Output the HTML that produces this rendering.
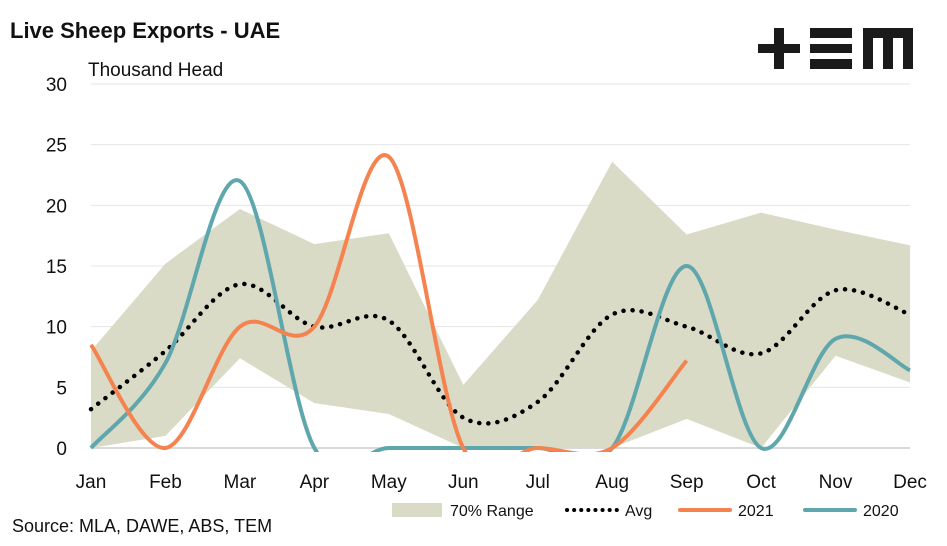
<!DOCTYPE html>
<html><head><meta charset="utf-8"><style>
body{margin:0;background:#fff;}
svg text{font-family:"Liberation Sans",sans-serif;}
</style></head><body>
<svg id="c" width="947" height="541">
<text x="10" y="38" font-size="22" font-weight="bold" fill="#111">Live Sheep Exports - UAE</text>
<text x="88" y="76" font-size="19" fill="#111">Thousand Head</text>
<g fill="#1a1a1a">
<rect x="758" y="44" width="42" height="9"/><rect x="774" y="28" width="10" height="41"/>
<rect x="810" y="28" width="42" height="10"/><rect x="810" y="44" width="42" height="9"/><rect x="810" y="59" width="42" height="10"/>
<rect x="863" y="28" width="50" height="10"/><rect x="863" y="28" width="10" height="41"/><rect x="883" y="28" width="10" height="41"/><rect x="903" y="28" width="10" height="41"/>
</g>
<g id="grid"></g><g id="band"></g>
<defs><clipPath id="clip"><rect x="85" y="80" width="830" height="372"/></clipPath></defs>
<g id="lines" clip-path="url(#clip)"></g><g id="axes"></g>
<g>
<rect x="392" y="503" width="50" height="14" fill="#d9dbc6"/>
<text x="450" y="516" font-size="16" fill="#111">70% Range</text>
<line x1="567" y1="510" x2="617" y2="510" stroke="#000" stroke-width="4" stroke-dasharray="0.1 7" stroke-linecap="round"/>
<text x="625" y="516" font-size="16" fill="#111">Avg</text>
<line x1="680" y1="510" x2="730" y2="510" stroke="#f4834f" stroke-width="4" stroke-linecap="round"/>
<text x="738" y="516" font-size="16" fill="#111">2021</text>
<line x1="805" y1="510" x2="855" y2="510" stroke="#5fa7ad" stroke-width="4" stroke-linecap="round"/>
<text x="863" y="516" font-size="16" fill="#111">2020</text>
</g>
<text x="12" y="532" font-size="18" fill="#111">Source: MLA, DAWE, ABS, TEM</text>
</svg>
<script>
const months=["Jan","Feb","Mar","Apr","May","Jun","Jul","Aug","Sep","Oct","Nov","Dec"];
const yTicks=[0,5,10,15,20,25,30];
const rangeUpper=[8,15.2,19.7,16.8,17.7,5.2,12.2,23.6,17.6,19.4,18,16.7];
const rangeLower=[0,1,7.4,3.7,2.8,0,0,0,2.4,0,7.6,5.4];
const avg=[3.2,8,13.5,10,10.5,2.5,3.8,11,10,7.8,13,11];
const s2021=[8.5,0,10,10,24,0,0,0,7.2];
const s2020=[0,7,22,0,0,0,0,0,15,0,9,6.4];
const X=i=>91+i*(910-91)/11, Y=v=>448-v*(448-84)/30;
const NS="http://www.w3.org/2000/svg";
function mk(p,t,a){const e=document.createElementNS(NS,t);for(const k in a)e.setAttribute(k,a[k]);document.getElementById(p).appendChild(e);return e;}
yTicks.forEach(v=>{
 const l=mk("grid","line",{x1:91,x2:910,y1:Y(v),y2:Y(v),stroke:v?"#e6e6e6":"#d9d9d9","stroke-width":v?1:2});
 
 
 const t=mk("axes","text",{x:67,y:Y(v)+7,"font-size":19,"text-anchor":"end",fill:"#111"});t.textContent=v;
 
 
});
months.forEach((m,i)=>{const t=mk("axes","text",{x:X(i),y:488,"font-size":19,"text-anchor":"middle",fill:"#111"});t.textContent=m;
 
 });
let d="M"+rangeUpper.map((v,i)=>X(i)+","+Y(v)).join("L");
for(let i=rangeLower.length-1;i>=0;i--)d+="L"+X(i)+","+Y(rangeLower[i]);
const b=mk("band","path",{d:d+"Z",fill:"#d9dbc6"});


function smooth(a){const p=a.map((v,i)=>[X(i),Y(v)]);let s="M"+p[0];for(let i=0;i<p.length-1;i++){const p0=p[i-1]||p[i],p1=p[i],p2=p[i+1],p3=p[i+2]||p2;const c1=[p1[0]+(p2[0]-p0[0])/6,p1[1]+(p2[1]-p0[1])/6],c2=[p2[0]-(p3[0]-p1[0])/6,p2[1]-(p3[1]-p1[1])/6];s+="C"+c1+" "+c2+" "+p2;}return s;}
const a=mk("lines","path",{d:smooth(avg),fill:"none",stroke:"#000","stroke-width":4.5,"stroke-dasharray":"0.1 9","stroke-linecap":"round"});


const l20=mk("lines","path",{d:smooth(s2020),fill:"none",stroke:"#5fa7ad","stroke-width":4});


const l21=mk("lines","path",{d:smooth(s2021),fill:"none",stroke:"#f4834f","stroke-width":4});


</script>
</body></html>
